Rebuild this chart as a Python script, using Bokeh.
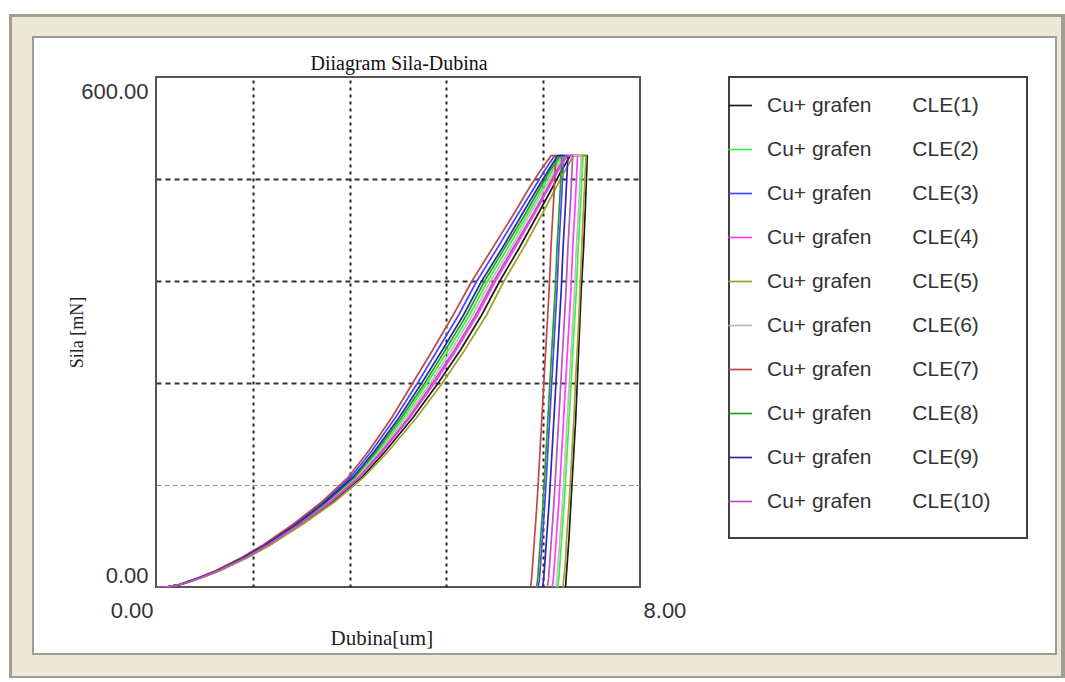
from bokeh.plotting import figure
from bokeh.models import Range1d, FixedTicker, Legend, LegendItem, Title
from bokeh.embed import file_html
from bokeh.resources import INLINE

# ---------------- data ----------------
title_text = "Diiagram Sila-Dubina"
x_label = "Dubina[um]"
y_label = "Sila [mN]"

x_tick_values = [0, 8]
x_tick_labels = ["0.00", "8.00"]
y_tick_values = [0, 600]
y_tick_labels = ["0.00", "600.00"]
x_grid_values = [1.6, 3.2, 4.8, 6.4]
y_grid_dark = [240, 360, 480]
y_grid_light = [120]

# load levels [mN] of the loading branch and of the unloading branch
load_levels = [0, 1, 3, 6, 12, 20, 35, 50, 75, 100, 130, 160, 200, 240, 280, 320,
               360, 400, 440, 470, 490, 508]
unload_levels = [508, 450, 400, 350, 300, 250, 200, 150, 100, 60, 30, 10, 0]

# depths [um] of each test at those load levels (loading branch)
load_1 = [0.00, 0.20, 0.37, 0.51, 0.76, 1.05, 1.49, 1.87, 2.41, 2.90, 3.40, 3.78,
          4.24, 4.65, 5.03, 5.37, 5.67, 6.00, 6.31, 6.54, 6.69, 6.84]
load_2 = [0.00, 0.20, 0.36, 0.50, 0.74, 1.02, 1.45, 1.82, 2.35, 2.82, 3.30, 3.66,
          4.09, 4.47, 4.83, 5.17, 5.47, 5.81, 6.14, 6.38, 6.54, 6.70]
load_3 = [0.00, 0.20, 0.36, 0.49, 0.72, 1.00, 1.42, 1.78, 2.30, 2.75, 3.21, 3.55,
          3.95, 4.31, 4.65, 4.99, 5.29, 5.64, 5.98, 6.24, 6.41, 6.58]
load_4 = [0.00, 0.20, 0.36, 0.51, 0.75, 1.04, 1.47, 1.85, 2.39, 2.87, 3.36, 3.74,
          4.19, 4.59, 4.96, 5.30, 5.60, 5.93, 6.25, 6.48, 6.64, 6.79]
load_5 = [0.00, 0.20, 0.37, 0.52, 0.77, 1.06, 1.50, 1.88, 2.43, 2.93, 3.43, 3.83,
          4.30, 4.72, 5.10, 5.45, 5.74, 6.07, 6.38, 6.60, 6.75, 6.89]
load_6 = [0.00, 0.20, 0.36, 0.50, 0.75, 1.03, 1.46, 1.83, 2.37, 2.84, 3.32, 3.69,
          4.13, 4.52, 4.88, 5.22, 5.52, 5.86, 6.18, 6.42, 6.58, 6.73]
load_7 = [0.00, 0.20, 0.35, 0.48, 0.71, 0.98, 1.40, 1.76, 2.27, 2.72, 3.17, 3.50,
          3.89, 4.23, 4.57, 4.90, 5.21, 5.56, 5.91, 6.16, 6.34, 6.52]
load_8 = [0.00, 0.20, 0.36, 0.50, 0.74, 1.01, 1.44, 1.81, 2.34, 2.80, 3.28, 3.63,
          4.05, 4.43, 4.78, 5.12, 5.42, 5.76, 6.10, 6.34, 6.50, 6.67]
load_9 = [0.00, 0.20, 0.36, 0.49, 0.73, 1.01, 1.43, 1.80, 2.32, 2.78, 3.25, 3.60,
          4.01, 4.38, 4.73, 5.07, 5.37, 5.72, 6.05, 6.30, 6.47, 6.63]
load_10 = [0.00, 0.20, 0.36, 0.51, 0.75, 1.03, 1.47, 1.84, 2.38, 2.86, 3.35, 3.72,
           4.17, 4.56, 4.93, 5.27, 5.57, 5.90, 6.23, 6.46, 6.61, 6.77]

# depths [um] of each test on the unloading branch
unload_1 = [7.12, 7.09, 7.06, 7.02, 6.99, 6.96, 6.93, 6.89, 6.85, 6.82, 6.79, 6.77, 6.76]
unload_2 = [7.05, 7.01, 6.97, 6.94, 6.90, 6.86, 6.82, 6.78, 6.74, 6.70, 6.67, 6.65, 6.63]
unload_3 = [6.73, 6.69, 6.65, 6.62, 6.58, 6.54, 6.50, 6.46, 6.42, 6.38, 6.35, 6.33, 6.31]
unload_4 = [6.96, 6.92, 6.88, 6.85, 6.81, 6.77, 6.73, 6.69, 6.65, 6.61, 6.58, 6.56, 6.54]
unload_5 = [7.10, 7.06, 7.03, 7.00, 6.97, 6.93, 6.90, 6.86, 6.82, 6.78, 6.76, 6.73, 6.72]
unload_6 = [7.02, 6.98, 6.94, 6.91, 6.87, 6.83, 6.79, 6.75, 6.71, 6.67, 6.64, 6.62, 6.60]
unload_7 = [6.60, 6.56, 6.52, 6.49, 6.45, 6.41, 6.37, 6.33, 6.29, 6.25, 6.22, 6.20, 6.18]
unload_8 = [6.70, 6.66, 6.62, 6.59, 6.55, 6.51, 6.47, 6.43, 6.39, 6.35, 6.32, 6.30, 6.28]
unload_9 = [6.80, 6.76, 6.72, 6.69, 6.65, 6.61, 6.57, 6.53, 6.49, 6.45, 6.42, 6.40, 6.38]
unload_10 = [6.88, 6.84, 6.80, 6.77, 6.73, 6.69, 6.65, 6.61, 6.57, 6.53, 6.50, 6.48, 6.46]

series_names = ["CLE(1)", "CLE(2)", "CLE(3)", "CLE(4)", "CLE(5)",
                "CLE(6)", "CLE(7)", "CLE(8)", "CLE(9)", "CLE(10)"]
series_prefix = "Cu+ grafen"
colors = ["#1a1a1a", "#3cf03c", "#4646ff", "#ff3cff", "#a0a028",
          "#bdbdbd", "#c04848", "#28a028", "#2a2aa8", "#c050c0"]

loads = [load_1, load_2, load_3, load_4, load_5, load_6, load_7, load_8, load_9, load_10]
unloads = [unload_1, unload_2, unload_3, unload_4, unload_5, unload_6, unload_7,
           unload_8, unload_9, unload_10]

# ---------------- layout (pixels) ----------------
W, H = 1065, 682
F_LEFT, F_RIGHT, F_TOP, F_BOTTOM = 156, 640, 77, 587   # the drawn chart box
NB = "\u00a0"

# window decoration drawn as CSS background layers behind a transparent canvas
deco = [
    ("#ffffff", 730, 78, 296, 459),    # legend box inside
    ("#404040", 728, 76, 300, 463),    # legend box border
    ("#ffffff", 157, 78, 482, 508),    # chart box inside
    ("#555555", 155, 76, 486, 512),    # chart box border
    ("#ffffff", 34, 38, 1021, 615),    # white panel
    ("#9c9c9c", 32, 36, 1025, 619),    # white panel border
    ("#ECE9D8", 12, 17, 1049, 659),    # beige window
    ("#a19f92", 9, 14, 1056, 664),     # window border
]
bg = ", ".join(f"linear-gradient({c},{c}) {x}px {y}px / {w}px {h}px no-repeat"
               for c, x, y, w, h in deco) + ", #ffffff"

# the plotting frame runs to the right edge so the legend beside the box is not clipped
x_end = x_tick_values[1] * (W - F_LEFT) / (F_RIGHT - F_LEFT)

p = figure(width=W, height=H, output_backend="svg", toolbar_location=None,
           x_range=Range1d(x_tick_values[0], x_end),
           y_range=Range1d(y_tick_values[0], y_tick_values[1]),
           min_border_left=F_LEFT, min_border_right=0,
           min_border_top=F_TOP, min_border_bottom=H - F_BOTTOM)
p.styles = {"background": bg}
p.border_fill_color = None
p.background_fill_color = None
p.outline_line_color = None

# axes
for ax in (p.xaxis[0], p.yaxis[0]):
    ax.axis_line_color = None
    ax.major_tick_line_color = None
    ax.minor_tick_line_color = None
    ax.major_tick_out = 0
    ax.major_tick_in = 0
    ax.major_label_text_font = "Liberation Sans"
    ax.major_label_text_font_size = "22px"
    ax.major_label_text_color = "#333333"
    ax.axis_label_text_font = "Liberation Serif"
    ax.axis_label_text_font_style = "normal"
    ax.axis_label_text_color = "#222222"

# x end labels sit just outside the box corners
p.xaxis.ticker = FixedTicker(ticks=x_tick_values)
p.xaxis.major_label_overrides = {
    x_tick_values[0]: x_tick_labels[0] + NB * 8,
    x_tick_values[1]: NB * 8 + x_tick_labels[1],
}
p.xaxis.major_label_standoff = 10

# x axis title, under the axis, left-aligned like the reference
xt = Title(text=x_label, align="left", offset=174, text_font="Liberation Serif",
           text_font_size="21px", text_font_style="normal", text_color="#222222",
           standoff=-3)
p.add_layout(xt, "below")

# y end labels sit just inside the box corners
y_unit = 600 / (F_BOTTOM - F_TOP)
y_label_pos = [y_tick_values[0] + 12 * y_unit, y_tick_values[1] - 14 * y_unit]
p.yaxis.ticker = FixedTicker(ticks=y_label_pos)
p.yaxis.major_label_overrides = {y_label_pos[0]: y_tick_labels[0],
                                 y_label_pos[1]: y_tick_labels[1]}
p.yaxis.major_label_standoff = 8
p.yaxis.axis_label = y_label
p.yaxis.axis_label_text_font_size = "18px"
p.yaxis.axis_label_standoff = -9

# grids
p.xgrid.ticker = FixedTicker(ticks=x_grid_values)
p.xgrid.grid_line_color = "#222222"
p.xgrid.grid_line_width = 2
p.xgrid.grid_line_dash = "3 4"
p.ygrid.visible = False
p.segment(x0=[x_tick_values[0]] * len(y_grid_dark), x1=[x_tick_values[1]] * len(y_grid_dark),
          y0=y_grid_dark, y1=y_grid_dark, line_color="#333333", line_width=2,
          line_dash="5 4")
p.segment(x0=[x_tick_values[0]] * len(y_grid_light), x1=[x_tick_values[1]] * len(y_grid_light),
          y0=y_grid_light, y1=y_grid_light, line_color="#8a8a8a", line_width=1,
          line_dash="5 3")

# curves
items = []
for i in range(10):
    xs = loads[i] + unloads[i]
    ys = load_levels + unload_levels
    r = p.line(xs, ys, line_color=colors[i], line_width=1.7)
    label = series_prefix + NB * 7 + series_names[i]
    items.append(LegendItem(label=label, renderers=[r]))

legend = Legend(items=items, location=(728 - F_LEFT, 73))
legend.border_line_color = None
legend.background_fill_alpha = 0
legend.label_text_font = "Liberation Sans"
legend.label_text_font_size = "21px"
legend.label_text_color = "#333333"
legend.glyph_width = 24
legend.glyph_height = 26
legend.label_height = 26
legend.spacing = 18
legend.padding = 5
legend.margin = 0
legend.label_standoff = 15
p.add_layout(legend)

# title
p.title.text = title_text
p.title.align = "left"
p.title.offset = 154
p.title.text_font = "Liberation Serif"
p.title.text_font_size = "20px"
p.title.text_font_style = "normal"
p.title.text_color = "#111111"
p.title.standoff = 7

open("out.html", "w").write(file_html(p, INLINE))
